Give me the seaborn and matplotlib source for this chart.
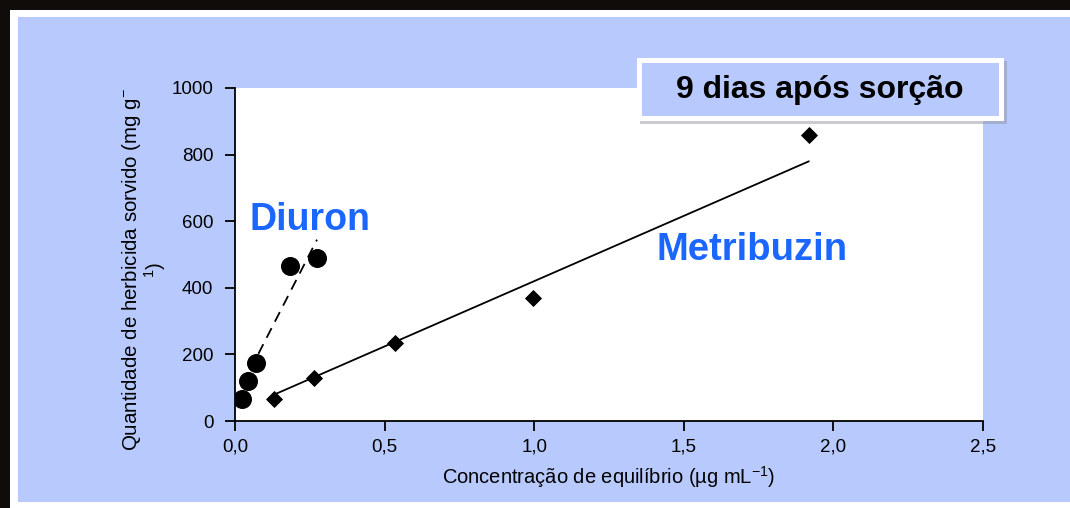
import numpy as np
import pandas as pd
import matplotlib.pyplot as plt
import seaborn as sns
from matplotlib.patches import Rectangle
from matplotlib.ticker import FuncFormatter

# dados (9 dias após sorção)
diuron_ce = [0.023, 0.043, 0.070, 0.184, 0.274]
diuron_q = [65, 120, 174, 465, 489]
metribuzin_ce = [0.130, 0.264, 0.535, 0.996, 1.918]
metribuzin_q = [66, 129, 234, 369, 859]

# retas ajustadas (inclinação, intercepto)
diuron_fit = (1750, 65)
metribuzin_fit = (392, 28)

x_ticks = [0.0, 0.5, 1.0, 1.5, 2.0, 2.5]
y_ticks = [0, 200, 400, 600, 800, 1000]

BG_BLUE = "#b8cafd"
TXT_BLUE = "#1a66ff"

sns.set_style("ticks")
plt.rcParams['font.family'] = ['Liberation Sans', 'DejaVu Sans']
plt.rcParams['mathtext.fontset'] = 'custom'
plt.rcParams['mathtext.rm'] = 'Liberation Sans'
plt.rcParams['mathtext.it'] = 'Liberation Sans:italic'

W, H = 1070, 508
fig = plt.figure(figsize=(W / 100, H / 100), dpi=100, facecolor="#100c0a")

# moldura: branco e painel azul
fig.patches.append(Rectangle((10 / W, 0), 1 - 10 / W, 1 - 10 / H, transform=fig.transFigure,
                             facecolor="white", edgecolor="none", zorder=0))
fig.patches.append(Rectangle((18 / W, 6 / H), 1 - 18 / W, 1 - 23 / H, transform=fig.transFigure,
                             facecolor=BG_BLUE, edgecolor="none", zorder=0.5))

ax = fig.add_axes([235 / W, (H - 421) / H, (983 - 235) / W, (421 - 88) / H])
ax.set_zorder(2)
ax.set_facecolor("white")

df_d = pd.DataFrame({"ce": diuron_ce, "q": diuron_q})
df_m = pd.DataFrame({"ce": metribuzin_ce, "q": metribuzin_q})

xd = np.array([min(diuron_ce), max(diuron_ce)])
fit_d = pd.DataFrame({"ce": xd, "q": diuron_fit[0] * xd + diuron_fit[1]})
xm = np.array([min(metribuzin_ce), max(metribuzin_ce)])
fit_m = pd.DataFrame({"ce": xm, "q": metribuzin_fit[0] * xm + metribuzin_fit[1]})

sns.lineplot(data=fit_d, x="ce", y="q", color="black", lw=1.3, ax=ax,
             linestyle=(0, (6, 4)), zorder=2)
sns.lineplot(data=fit_m, x="ce", y="q", color="black", lw=1.3, ax=ax, zorder=2)
sns.scatterplot(data=df_d, x="ce", y="q", marker="o", s=160, color="black",
                edgecolor="black", ax=ax, zorder=3)
sns.scatterplot(data=df_m, x="ce", y="q", marker="D", s=65, color="black",
                edgecolor="black", ax=ax, zorder=3)

ax.set_xlim(0, 2.5)
ax.set_ylim(0, 1000)
ax.set_xticks(x_ticks)
ax.set_yticks(y_ticks)
ax.xaxis.set_major_formatter(FuncFormatter(lambda v, p: f"{v:.1f}".replace(".", ",")))
ax.tick_params(axis="both", labelsize=13.5, length=7.5, width=1.3, color="black",
               labelcolor="black", direction="out", pad=5)
ax.tick_params(axis="y", pad=8)
for side in ["top", "right"]:
    ax.spines[side].set_visible(False)
for side in ["left", "bottom"]:
    ax.spines[side].set_color("black")
    ax.spines[side].set_linewidth(1.3)

ax.set_xlabel("Concentração de equilíbrio (µg mL$^{-1}$)", fontsize=14.5, color="black")
ax.xaxis.set_label_coords(0.5, -0.13)
ax.set_ylabel("Quantidade de herbicida sorvido (mg g$^{-}$\n$^{1}$)", fontsize=14.8,
              color="black", linespacing=1.0)
ax.yaxis.set_label_coords(-0.089, 0.455)

ax.text(0.05, 605, "Diuron", color=TXT_BLUE, fontsize=27, fontweight="bold",
        ha="left", va="center")
ax.text(1.41, 515, "Metribuzin", color=TXT_BLUE, fontsize=27.5, fontweight="bold",
        ha="left", va="center")

# caixa do título com sombra
fig.patches.append(Rectangle((640 / W, (H - 124) / H), 367 / W, 63 / H, transform=fig.transFigure,
                             facecolor="#8c8c9c", edgecolor="none", alpha=0.45, zorder=4))
fig.patches.append(Rectangle((637 / W, (H - 121) / H), 367 / W, 63 / H, transform=fig.transFigure,
                             facecolor="white", edgecolor="none", zorder=5))
fig.patches.append(Rectangle((642 / W, (H - 116) / H), 357 / W, 53 / H, transform=fig.transFigure,
                             facecolor=BG_BLUE, edgecolor="none", zorder=6))
fig.text(820 / W, (H - 90) / H, "9 dias após sorção", fontsize=23, fontweight="bold",
         color="black", ha="center", va="center", zorder=7)

fig.savefig("out.png", dpi=100, facecolor=fig.get_facecolor())
